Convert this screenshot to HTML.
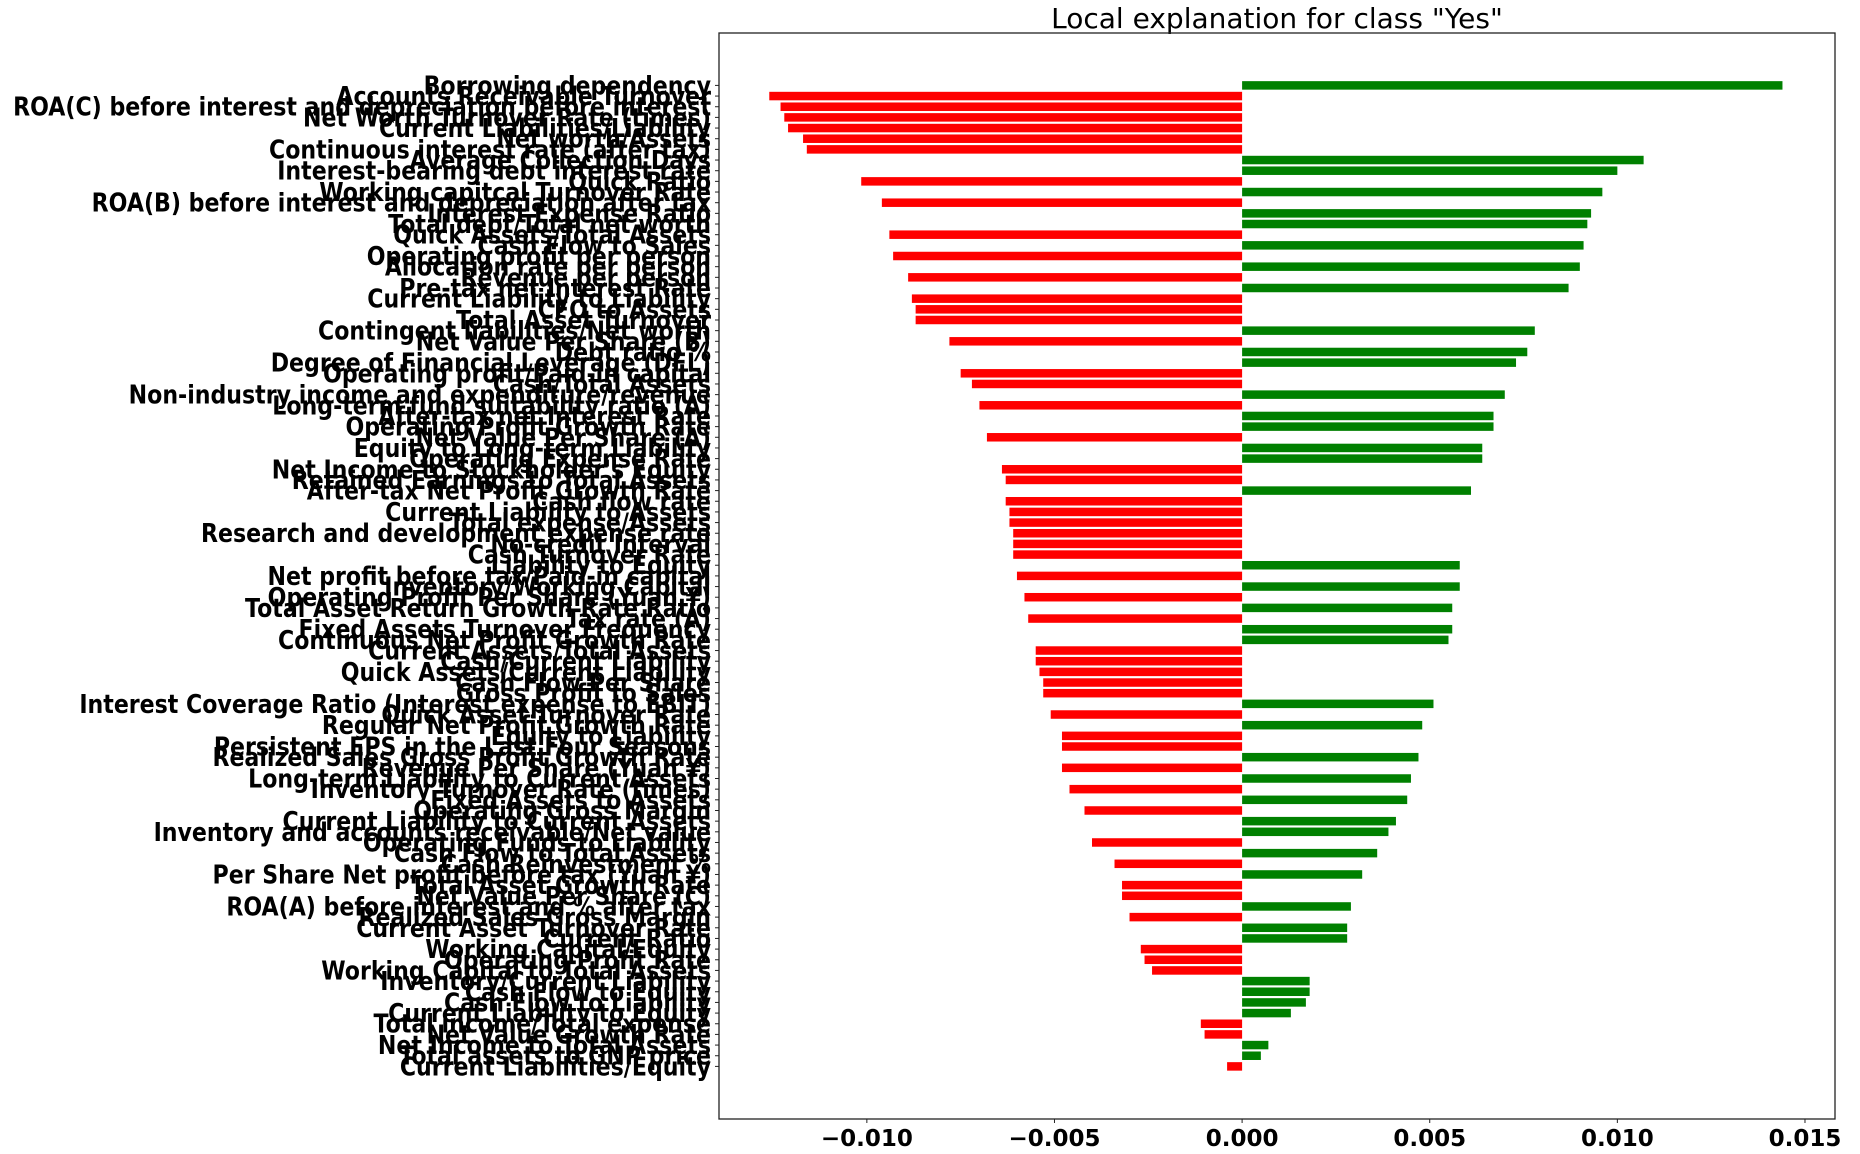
<!DOCTYPE html>
<html><head><meta charset="utf-8">
<style>
html,body{margin:0;padding:0;background:#fff;}
svg{display:block;}
text{font-family:"DejaVu Sans","Liberation Sans",sans-serif;}
</style></head>
<body>
<svg id="chart" width="1860" height="1154" viewBox="0 0 1860 1154" xmlns="http://www.w3.org/2000/svg">
<text x="1277" y="28" font-size="28" text-anchor="middle" fill="#000">Local explanation for class "Yes"</text>
<g id="bars"></g>
<g id="ylabels"></g>
<g id="xaxis"></g>
<rect x="719" y="33" width="1116" height="1086" fill="none" stroke="#222" stroke-width="1.3"/>
</svg>
<script>
const features = ["Borrowing dependency","Accounts Receivable Turnover","ROA(C) before interest and depreciation before interest","Net Worth Turnover Rate (times)","Current Liabilities/Liability","Net worth/Assets","Continuous interest rate (after tax)","Average Collection Days","Interest-bearing debt interest rate","Quick Ratio","Working capitcal Turnover Rate","ROA(B) before interest and depreciation after tax","Interest Expense Ratio","Total debt/Total net worth","Quick Assets/Total Assets","Cash Flow to Sales","Operating profit per person","Allocation rate per person","Revenue per person","Pre-tax net Interest Rate","Current Liability to Liability","CFO to Assets","Total Asset Turnover","Contingent liabilities/Net worth","Net Value Per Share (B)","Debt ratio %","Degree of Financial Leverage (DFL)","Operating profit/Paid-in capital","Cash/Total Assets","Non-industry income and expenditure/revenue","Long-term fund suitability ratio (A)","After-tax net Interest Rate","Operating Profit Growth Rate","Net Value Per Share (A)","Equity to Long-term Liability","Operating Expense Rate","Net Income to Stockholder's Equity","Retained Earnings to Total Assets","After-tax Net Profit Growth Rate","Cash flow rate","Current Liability to Assets","Total expense/Assets","Research and development expense rate","No-credit Interval","Cash Turnover Rate","Liability to Equity","Net profit before tax/Paid-in capital","Inventory/Working Capital","Operating Profit Per Share (Yuan ¥)","Total Asset Return Growth Rate Ratio","Tax rate (A)","Fixed Assets Turnover Frequency","Continuous Net Profit Growth Rate","Current Assets/Total Assets","Cash/Current Liability","Quick Assets/Current Liability","Cash Flow Per Share","Gross Profit to Sales","Interest Coverage Ratio (Interest expense to EBIT)","Quick Asset Turnover Rate","Regular Net Profit Growth Rate","Equity to Liability","Persistent EPS in the Last Four Seasons","Realized Sales Gross Profit Growth Rate","Revenue Per Share (Yuan ¥)","Long-term Liability to Current Assets","Inventory Turnover Rate (times)","Fixed Assets to Assets","Operating Gross Margin","Current Liability to Current Assets","Inventory and accounts receivable/Net value","Operating Funds to Liability","Cash Flow to Total Assets","Cash Reinvestment %","Per Share Net profit before tax (Yuan ¥)","Total Asset Growth Rate","Net Value Per Share (C)","ROA(A) before interest and % after tax","Realized Sales Gross Margin","Current Asset Turnover Rate","Current Ratio","Working Capital/Equity","Operating Profit Rate","Working Capital to Total Assets","Inventory/Current Liability","Cash Flow to Equity","Cash Flow to Liability","Current Liability to Equity","Total income/Total expense","Net Value Growth Rate","Net Income to Total Assets","Total assets to GNP price","Current Liabilities/Equity"];
const weights = [0.0144,-0.0126,-0.0123,-0.0122,-0.0121,-0.0117,-0.0116,0.0107,0.0100,-0.01015,0.0096,-0.0096,0.0093,0.0092,-0.0094,0.0091,-0.0093,0.0090,-0.0089,0.0087,-0.0088,-0.0087,-0.0087,0.0078,-0.0078,0.0076,0.0073,-0.0075,-0.0072,0.0070,-0.0070,0.0067,0.0067,-0.0068,0.0064,0.0064,-0.0064,-0.0063,0.0061,-0.0063,-0.0062,-0.0062,-0.0061,-0.0061,-0.0061,0.0058,-0.0060,0.0058,-0.0058,0.0056,-0.0057,0.0056,0.0055,-0.0055,-0.0055,-0.0054,-0.0053,-0.0053,0.0051,-0.0051,0.0048,-0.0048,-0.0048,0.0047,-0.0048,0.0045,-0.0046,0.0044,-0.0042,0.0041,0.0039,-0.0040,0.0036,-0.0034,0.0032,-0.0032,-0.0032,0.0029,-0.0030,0.0028,0.0028,-0.0027,-0.0026,-0.0024,0.0018,0.0018,0.0017,0.0013,-0.0011,-0.0010,0.0007,0.0005,-0.0004];
const xTicks = [-0.010,-0.005,0.000,0.005,0.010,0.015];
const xTickLabels = ["\u22120.010","\u22120.005","0.000","0.005","0.010","0.015"];

const NS="http://www.w3.org/2000/svg";
const X0=719,X1=1835,XMIN=-0.01394,XMAX=0.0158;
const x=v=>X0+(v-XMIN)/(XMAX-XMIN)*(X1-X0);
const Y_FIRST=85.4,Y_LAST=1066.4;
const y=i=>Y_FIRST+i*(Y_LAST-Y_FIRST)/(features.length-1);
const bh=8.5;
const bars=document.getElementById('bars'),yl=document.getElementById('ylabels'),xa=document.getElementById('xaxis');
features.forEach((f,i)=>{
  const w=weights[i];
  const r=document.createElementNS(NS,'rect');
  
  
  const a=x(Math.min(0,w)),b=x(Math.max(0,w));
  r.setAttribute('x',a);r.setAttribute('width',b-a);
  r.setAttribute('y',y(i)-bh/2);r.setAttribute('height',bh);
  r.setAttribute('fill',w>=0?'#008000':'#ff0000');
  bars.appendChild(r);
  const t=document.createElementNS(NS,'line');
  
  
  t.setAttribute('x1',X0-4);t.setAttribute('x2',X0);t.setAttribute('y1',y(i));t.setAttribute('y2',y(i));
  t.setAttribute('stroke','#222');t.setAttribute('stroke-width','1');
  yl.appendChild(t);
  const tx=document.createElementNS(NS,'text');
  
  
  tx.setAttribute('transform','translate(711,'+(y(i)+9)+') scale(0.85,1)');
  tx.setAttribute('text-anchor','end');tx.setAttribute('font-size','26');tx.setAttribute('font-weight','bold');
  tx.textContent=f;
  yl.appendChild(tx);
});
xTicks.forEach((v,i)=>{
  const t=document.createElementNS(NS,'line');
  
  
  t.setAttribute('x1',x(v));t.setAttribute('x2',x(v));t.setAttribute('y1',1119);t.setAttribute('y2',1123);
  t.setAttribute('stroke','#222');
  xa.appendChild(t);
  const tx=document.createElementNS(NS,'text');
  
  
  tx.setAttribute('x',x(v));tx.setAttribute('y',1146);
  tx.setAttribute('text-anchor','middle');tx.setAttribute('font-size','23');tx.setAttribute('font-weight','bold');
  tx.textContent=xTickLabels[i];
  xa.appendChild(tx);
});
</script>
</body></html>
